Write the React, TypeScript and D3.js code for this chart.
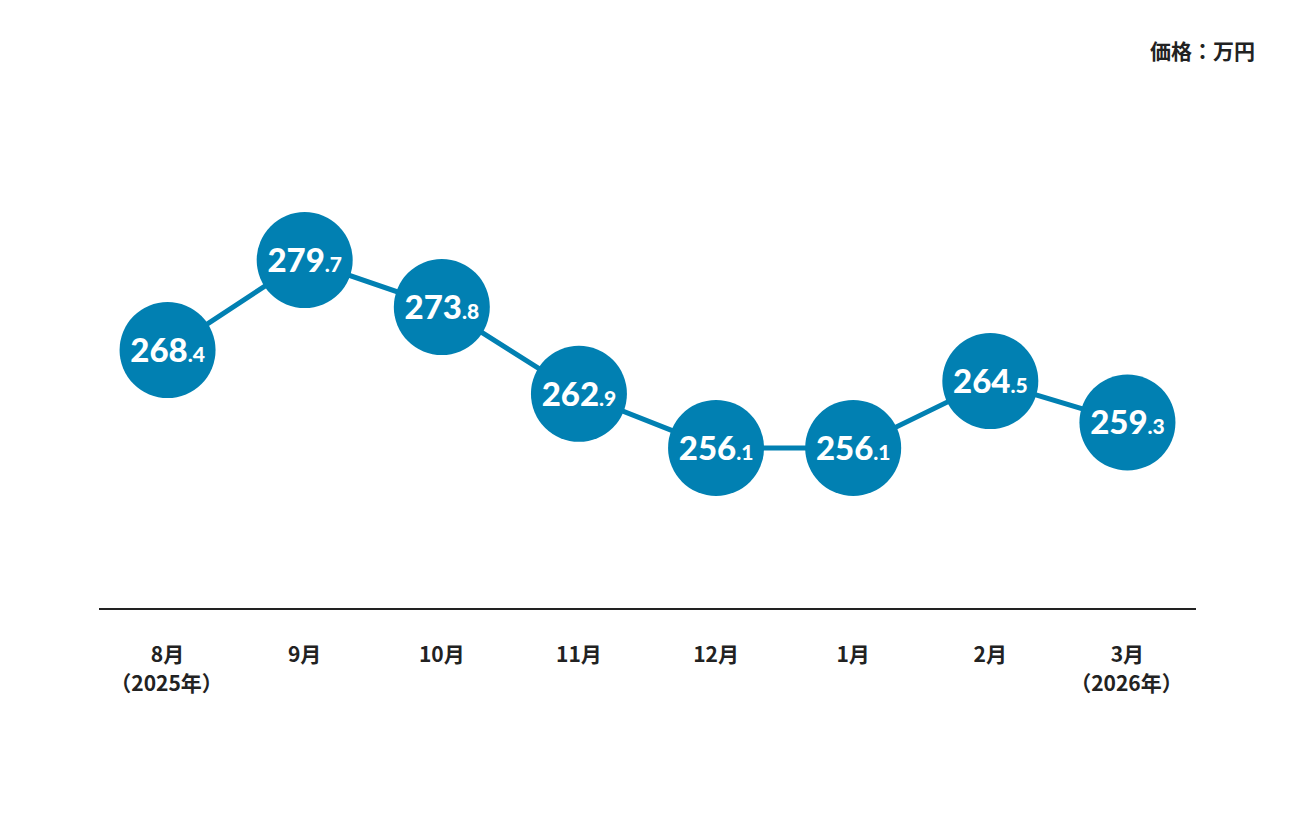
import React from "react";
import * as d3 from "d3";

const categories = ["8月", "9月", "10月", "11月", "12月", "1月", "2月", "3月"];
const subLabels = ["（2025年）", "", "", "", "", "", "", "（2026年）"];
const values = [268.4, 279.7, 273.8, 262.9, 256.1, 256.1, 264.5, 259.3];
const unitLabel = "価格：万円";

const W = 1296;
const H = 816;
const BLUE = "#0180b2";

export default function App() {
  const x = d3.scaleBand<string>().domain(categories).range([99, 1196]);
  const y = d3.scaleLinear().domain([250, 280]).range([496.5, 257.7]);
  const cx = (i: number) => (x(categories[i]) as number) + x.bandwidth() / 2;
  const line = d3
    .line<number>()
    .x((_, i) => cx(i))
    .y((d) => y(d));
  const jp = "'Noto Sans CJK JP', 'Noto Sans', sans-serif";
  return (
    <svg width={W} height={H} style={{ position: "absolute", left: 0, top: 0, background: "#fff" }}>
      <text x={1255} y={59} textAnchor="end" fontFamily={jp} fontWeight={700} fontSize={21} fill="#222">
        {unitLabel}
      </text>
      <path d={line(values) || ""} fill="none" stroke={BLUE} strokeWidth={5} />
      {values.map((v, i) => {
        const [intPart, decPart] = v.toFixed(1).split(".");
        return (
          <g key={i}>
            <circle cx={cx(i)} cy={y(v)} r={48} fill={BLUE} />
            <text
              x={cx(i)}
              y={y(v) + 12}
              textAnchor="middle"
              fontFamily="Lato, sans-serif"
              fontWeight={900}
              fill="#fff"
            >
              <tspan fontSize={33}>{intPart}</tspan>
              <tspan fontSize={21}>{"." + decPart}</tspan>
            </text>
          </g>
        );
      })}
      <line x1={99} x2={1196} y1={609} y2={609} stroke="#222" strokeWidth={2} />
      {categories.map((c, i) => (
        <g key={c} fontFamily={jp} fontWeight={700} fontSize={21} fill="#222" textAnchor="middle">
          <text x={cx(i)} y={662}>{c}</text>
          {subLabels[i] && (
            <text x={cx(i) - 1} y={691}>{subLabels[i]}</text>
          )}
        </g>
      ))}
    </svg>
  );
}
